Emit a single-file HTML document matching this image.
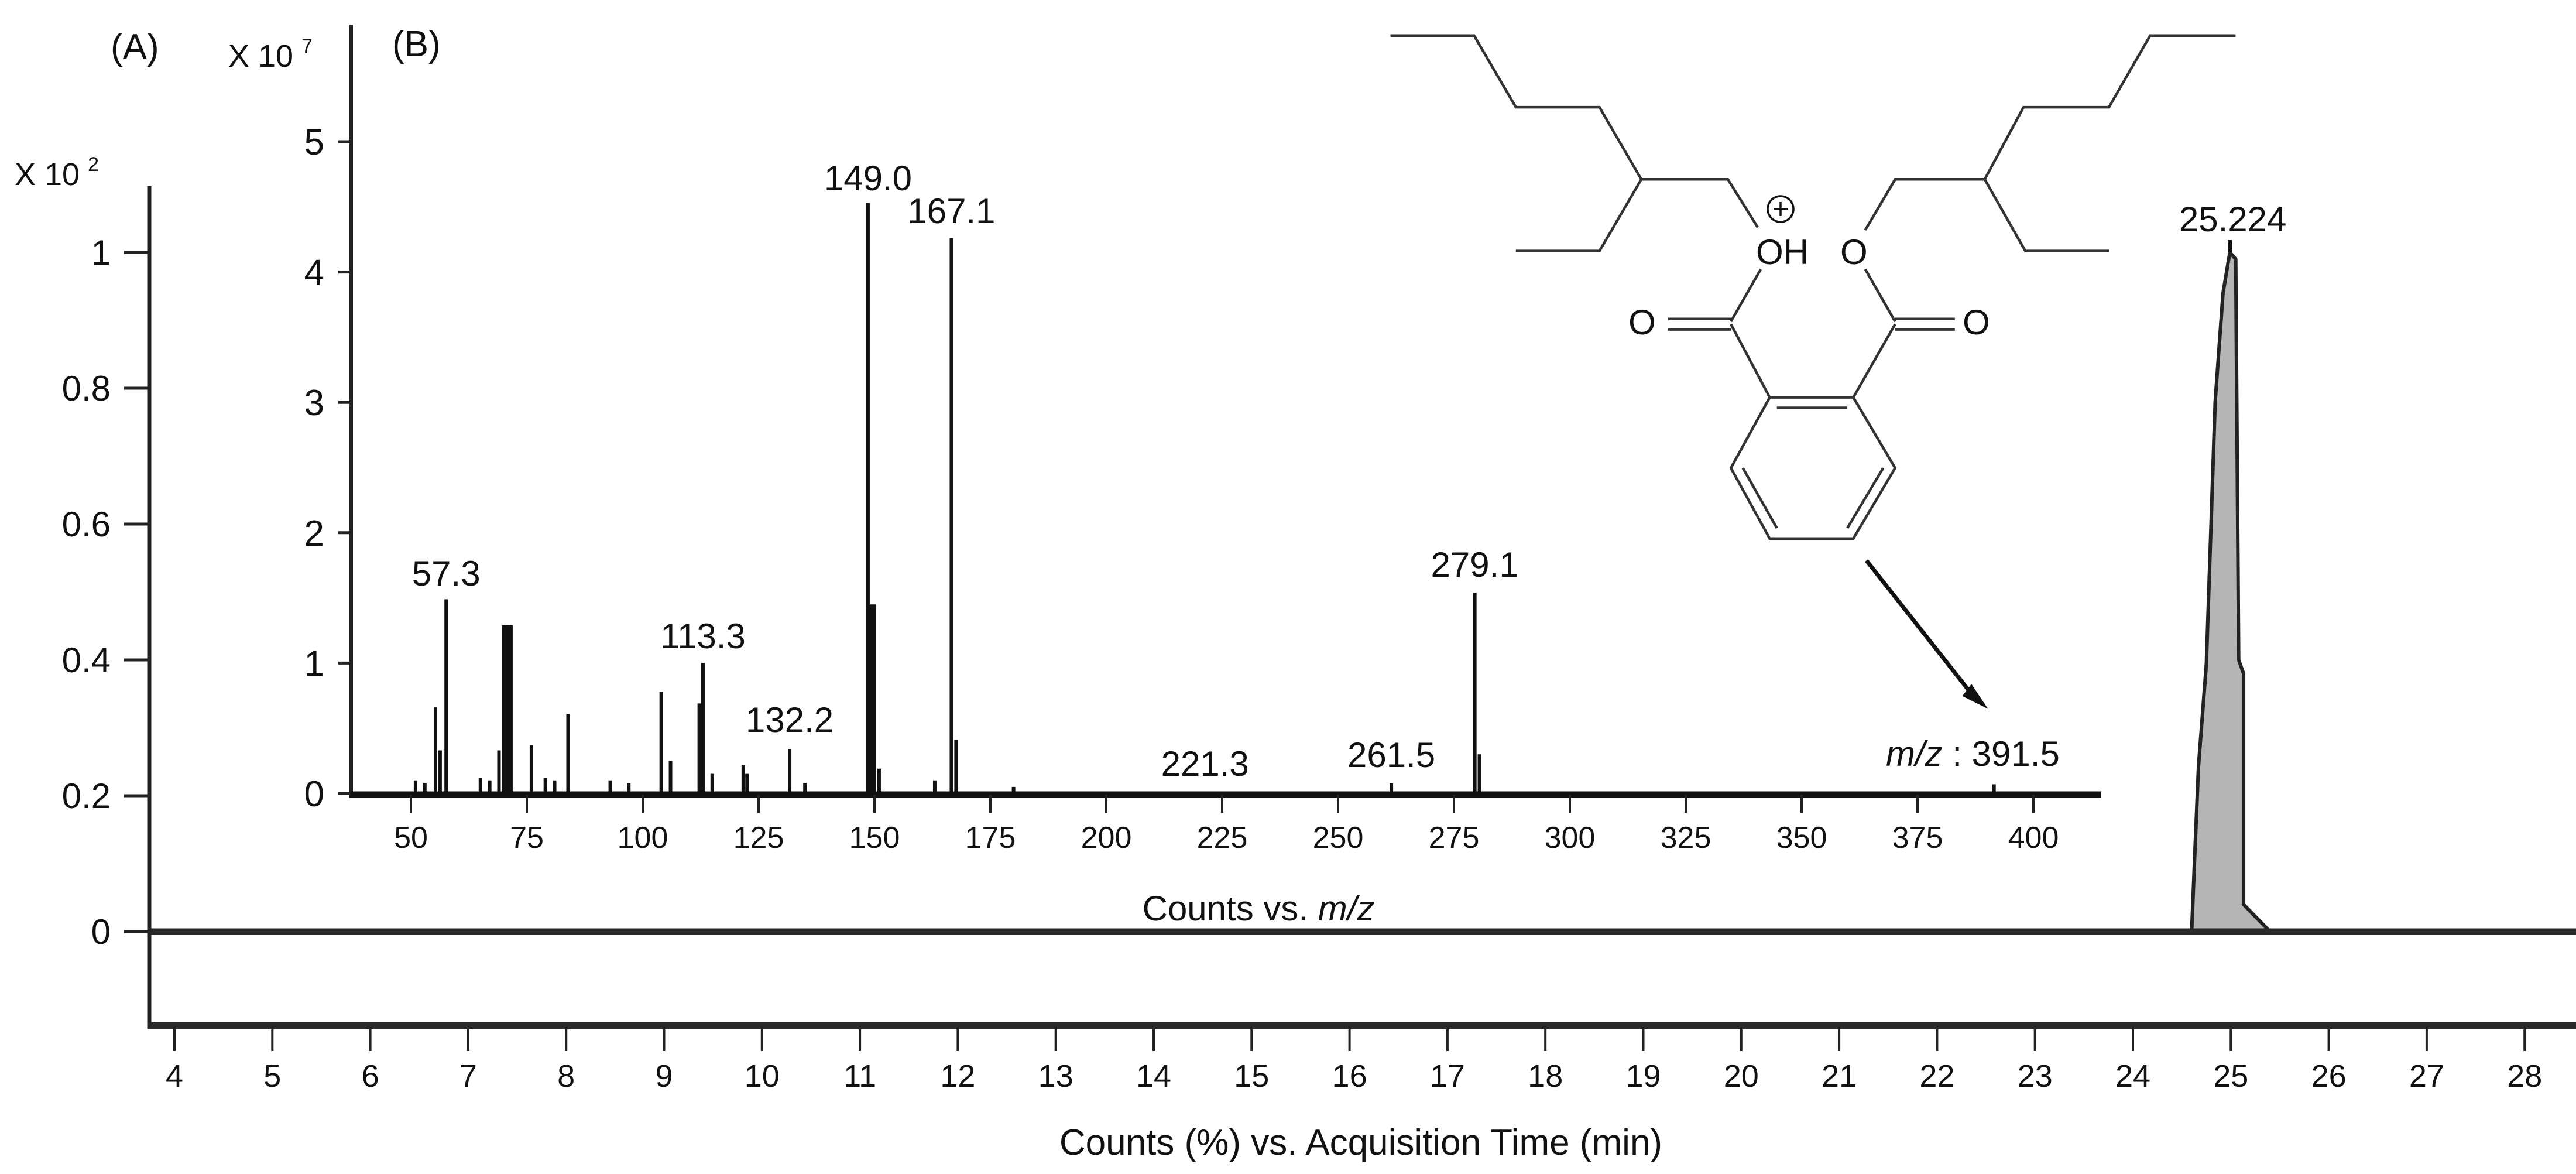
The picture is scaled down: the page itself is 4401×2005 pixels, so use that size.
<!DOCTYPE html>
<html><head><meta charset="utf-8"><style>
html,body{margin:0;padding:0;background:#fff}
svg{display:block}
text{font-family:"Liberation Sans",sans-serif;fill:#111}
</style></head><body>
<svg id="chart" width="4401" height="2005" viewBox="0 0 4401 2005" xmlns="http://www.w3.org/2000/svg">
<g id="molecule" fill="none" stroke="#333" stroke-width="4.5">
 <g transform="translate(2350,0) scale(1.0204,0.893)">
  <polyline vector-effect="non-scaling-stroke" points="25,68 165,68 235,205 375,205 445,343 590,343 640,435"/>
  <polyline vector-effect="non-scaling-stroke" points="445,343 375,480 235,480"/>
  <polyline vector-effect="non-scaling-stroke" points="820,440 870,343 1020,343 1085,205 1228,205 1297,68 1440,68"/>
  <polyline vector-effect="non-scaling-stroke" points="1020,343 1088,480 1228,480"/>
  <line vector-effect="non-scaling-stroke" x1="645" y1="515" x2="595" y2="615"/>
  <line vector-effect="non-scaling-stroke" x1="490" y1="610" x2="595" y2="610"/>
  <line vector-effect="non-scaling-stroke" x1="490" y1="630" x2="595" y2="630"/>
  <line vector-effect="non-scaling-stroke" x1="595" y1="620" x2="660" y2="760"/>
  <line vector-effect="non-scaling-stroke" x1="820" y1="515" x2="870" y2="615"/>
  <line vector-effect="non-scaling-stroke" x1="870" y1="610" x2="970" y2="610"/>
  <line vector-effect="non-scaling-stroke" x1="870" y1="630" x2="970" y2="630"/>
  <line vector-effect="non-scaling-stroke" x1="870" y1="620" x2="800" y2="760"/>
  <polygon vector-effect="non-scaling-stroke" points="660,760 800,760 870,895 800,1030 660,1030 595,895"/>
  <line vector-effect="non-scaling-stroke" x1="672" y1="780" x2="790" y2="780"/>
  <line vector-effect="non-scaling-stroke" x1="850" y1="895" x2="790" y2="1010"/>
  <line vector-effect="non-scaling-stroke" x1="615" y1="895" x2="672" y2="1010"/>
  <line vector-effect="non-scaling-stroke" stroke="#111" stroke-width="7" x1="822" y1="1072" x2="1000" y2="1330"/>
 </g>
 <polygon points="3390,1205 3368,1172 3356,1188" fill="#111" stroke="#111"/>
 <circle cx="3042" cy="357" r="22" stroke="#111" stroke-width="3.5"/>
 <line x1="3030" y1="357" x2="3054" y2="357" stroke="#111" stroke-width="3.5"/>
 <line x1="3042" y1="345" x2="3042" y2="369" stroke="#111" stroke-width="3.5"/>
</g>
<g font-size="60">
 <text x="3000" y="451">OH</text>
 <text x="3144" y="451">O</text>
 <text x="2782" y="571">O</text>
 <text x="3353" y="571">O</text>
</g>
<g id="axesA"></g>
<g id="axesB"></g>
</svg>
<script>
// ---- Chromatogram (A) data ----
const timeTicks = [4,5,6,7,8,9,10,11,12,13,14,15,16,17,18,19,20,21,22,23,24,25,26,27,28];
const countTicks = [0,0.2,0.4,0.6,0.8,1];
const countTickLabels = ["0","0.2","0.4","0.6","0.8","1"];
const peakTimes = [24.6,24.63,24.67,24.75,24.84,24.92,24.99,25.05,25.08,25.13,25.13,25.4];
const peakCounts = [0,0.107,0.244,0.394,0.78,0.94,1.0,0.99,0.4,0.38,0.04,0];
const peakLabel = "25.224";
// ---- Mass spectrum (B) data ----
const mzTicks = [50,75,100,125,150,175,200,225,250,275,300,325,350,375,400];
const intTicks = [0,1,2,3,4,5];
const mzValues = [51,53,55.3,56.3,57.6,65,67,69,70.4,71.2,76,79,81,83.9,93,97,104,106,112.2,113,115,121.7,122.5,131.7,135,148.6,149.6,151,163,166.6,167.6,180,261.5,279.5,280.5,391.5];
const intensities = [0.1,0.08,0.66,0.33,1.49,0.12,0.1,0.33,1.29,1.29,0.37,0.12,0.1,0.61,0.1,0.08,0.78,0.25,0.69,1.0,0.15,0.22,0.15,0.34,0.08,4.53,1.45,0.19,0.1,4.26,0.41,0.05,0.08,1.54,0.3,0.07];
const peakLabels = [["57.3",57.6,1000],["113.3",113,1107],["132.2",131.7,1250],["149.0",148.6,325],["167.1",166.6,381],["221.3",221.3,1325],["261.5",261.5,1310],["279.1",279.5,985]];

const NS="http://www.w3.org/2000/svg";
function mk(tag,attrs,parent,txt){const e=document.createElementNS(NS,tag);for(const k in attrs)e.setAttribute(k,attrs[k]);if(txt!==undefined)e.textContent=txt;parent.appendChild(e);return e;}
const xA=t=>298+(t-4)*167.3;
const yA=v=>1591-v*1160;
const xB=m=>702+(m-50)*7.92;
const yB=v=>1355-v*222.6;

const gA=document.getElementById('axesA');
let d="M"+xA(peakTimes[0])+","+yA(0);
for(let i=0;i<peakTimes.length;i++) d+=" L"+xA(peakTimes[i])+","+yA(peakCounts[i]);
d+=" Z";
const pk=mk('path',{d:d,fill:"#b5b5b5",stroke:"#222","stroke-width":6,"stroke-linejoin":"round"},gA);


const zl=mk('line',{x1:255,y1:yA(0),x2:4401,y2:yA(0),stroke:"#2a2a2a","stroke-width":11},gA);


const ya=mk('line',{x1:255,y1:318,x2:255,y2:1757,stroke:"#222","stroke-width":7},gA);


const xa=mk('line',{x1:252,y1:1752,x2:4401,y2:1752,stroke:"#2a2a2a","stroke-width":12},gA);


countTicks.forEach((v,i)=>{
  mk('line',{x1:212,y1:yA(v),x2:255,y2:yA(v),stroke:"#222","stroke-width":5},gA);
  const t=mk('text',{x:189,y:yA(v)+21,"text-anchor":"end","font-size":60},gA,countTickLabels[i]);
  
  
});
timeTicks.forEach(v=>{
  mk('line',{x1:xA(v),y1:1752,x2:xA(v),y2:1795,stroke:"#222","stroke-width":4},gA);
  const t=mk('text',{x:xA(v),y:1856,"text-anchor":"middle","font-size":54},gA,String(v));
  
  
});
const apexT=peakTimes[peakCounts.indexOf(Math.max(...peakCounts))];
const pl=mk('text',{x:xA(apexT)+5,y:395,"text-anchor":"middle","font-size":60},gA,peakLabel);


mk('line',{x1:xA(apexT),y1:yA(Math.max(...peakCounts)),x2:xA(apexT),y2:410,stroke:"#111","stroke-width":7},gA);
const xt=mk('text',{x:2325,y:1972,"text-anchor":"middle","font-size":62},gA,"Counts (%) vs. Acquisition Time (min)");


const la=mk('text',{x:189,y:101,"font-size":62},gA,"(A)");


const sa=mk('text',{x:25,y:316,"font-size":54},gA,"X 10");


mk('text',{x:150,y:292,"font-size":34},gA,"2");

const gB=document.getElementById('axesB');
mzValues.forEach((m,i)=>{
  const v=intensities[i];
  const w=(v>1.1 && v<1.46)?12:6;
  const b=mk('line',{x1:xB(m),y1:yB(0),x2:xB(m),y2:yB(v),stroke:"#111","stroke-width":w},gB);
  
  
});
const yb=mk('line',{x1:600,y1:42,x2:600,y2:1360,stroke:"#222","stroke-width":6},gB);


const xb=mk('line',{x1:597,y1:1357,x2:3590,y2:1357,stroke:"#111","stroke-width":11},gB);


intTicks.forEach(v=>{
  mk('line',{x1:578,y1:yB(v),x2:600,y2:yB(v),stroke:"#222","stroke-width":5},gB);
  const t=mk('text',{x:554,y:yB(v)+22,"text-anchor":"end","font-size":62},gB,String(v));
  
  
});
mzTicks.forEach(v=>{
  mk('line',{x1:xB(v),y1:1357,x2:xB(v),y2:1388,stroke:"#222","stroke-width":4},gB);
  const t=mk('text',{x:xB(v),y:1448,"text-anchor":"middle","font-size":52},gB,String(v));
  
  
});
peakLabels.forEach(p=>{
  const t=mk('text',{x:xB(p[1]),y:p[2],"text-anchor":"middle","font-size":60},gB,p[0]);
  
  
});
const mzl=mk('text',{x:3222,y:1308,"font-size":60},gB);


mk('tspan',{"font-style":"italic"},mzl,"m/z");
mk('tspan',{},mzl," : 391.5");
const xbt=mk('text',{x:2150,y:1572,"text-anchor":"middle","font-size":60},gB);


mk('tspan',{},xbt,"Counts vs. ");
mk('tspan',{"font-style":"italic"},xbt,"m/z");
const lb=mk('text',{x:670,y:96,"font-size":62},gB,"(B)");


const sb=mk('text',{x:390,y:114,"font-size":54},gB,"X 10");


mk('text',{x:515,y:90,"font-size":34},gB,"7");
</script>
</body></html>
